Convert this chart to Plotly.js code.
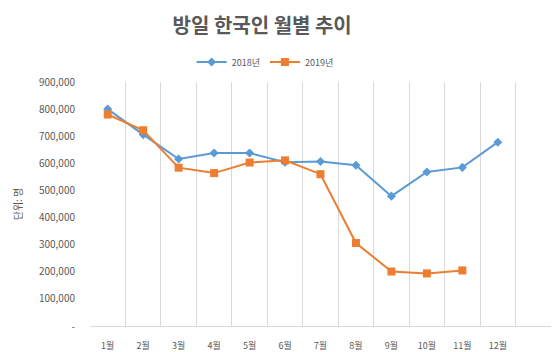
<!DOCTYPE html>
<html><head><meta charset="utf-8">
<script src="https://cdn.plot.ly/plotly-3.0.1.min.js"></script>
<style>html,body{margin:0;padding:0;background:#fff;}</style>
</head><body>
<div id="chart" style="width:559px;height:352px;"></div>
<script>
const months = ['1월','2월','3월','4월','5월','6월','7월','8월','9월','10월','11월','12월'];
const visitors2018 = [800000,706000,616000,638000,638000,604000,607000,593000,479000,568000,585000,678000];
const visitors2019 = [780000,722000,584000,564000,603000,611000,560000,306000,201000,194000,205000];
const yTickVals = [0,100000,200000,300000,400000,500000,600000,700000,800000,900000];
const yTickText = ['-','100,000','200,000','300,000','400,000','500,000','600,000','700,000','800,000','900,000'];

const pos = months.map((m,i)=>i+1);
const font = "'Noto Sans CJK KR', 'Noto Sans', sans-serif";

const traces = [
  {x: pos.slice(0, visitors2018.length), y: visitors2018, name:'2018년', type:'scatter', mode:'lines+markers',
   line:{color:'#5b9bd5', width:2}, marker:{symbol:'diamond', size:7, color:'#5b9bd5'}},
  {x: pos.slice(0, visitors2019.length), y: visitors2019, name:'2019년', type:'scatter', mode:'lines+markers',
   line:{color:'#ed7d31', width:2}, marker:{symbol:'square', size:8, color:'#ed7d31'}}
];

const layout = {
  width:559, height:352,
  margin:{l:90, r:8, t:82, b:26},
  paper_bgcolor:'#fff', plot_bgcolor:'#fff',
  font:{family:font, color:'#595959', size:10},
  title:{text:'<b>방일 한국인 월별 추이</b>', x:0.469, xanchor:'center', y:0.925, yanchor:'middle',
         font:{family:font, size:20, color:'#595959'}},
  showlegend:true,
  legend:{orientation:'h', x:0.38, xanchor:'center', y:1.082, yanchor:'middle',
          font:{family:font, size:9, color:'#595959'}, itemwidth:30, tracegroupgap:0},
  xaxis:{range:[0.5,13.5], tickvals:pos, ticktext:months, showgrid:false, zeroline:false,
         showline:true, linecolor:'#d9d9d9', linewidth:1,
         ticks:'outside', ticklen:11, tickcolor:'rgba(0,0,0,0)',
         tickfont:{family:font, size:9, color:'#595959'},
         minor:{tick0:0.5, dtick:1, showgrid:true, gridcolor:'#d9d9d9', gridwidth:1}},
  yaxis:{range:[0,900000], tickvals:yTickVals, ticktext:yTickText, showgrid:false, zeroline:false,
         showline:false, ticks:'outside', ticklen:12, tickcolor:'rgba(0,0,0,0)',
         tickfont:{family:font, size:10, color:'#595959'},
         title:{text:'단위: 명', standoff:14, font:{family:font, size:10, color:'#595959'}}}
};

Plotly.newPlot('chart', traces, layout, {displayModeBar:false, staticPlot:true});
</script>
</body></html>
